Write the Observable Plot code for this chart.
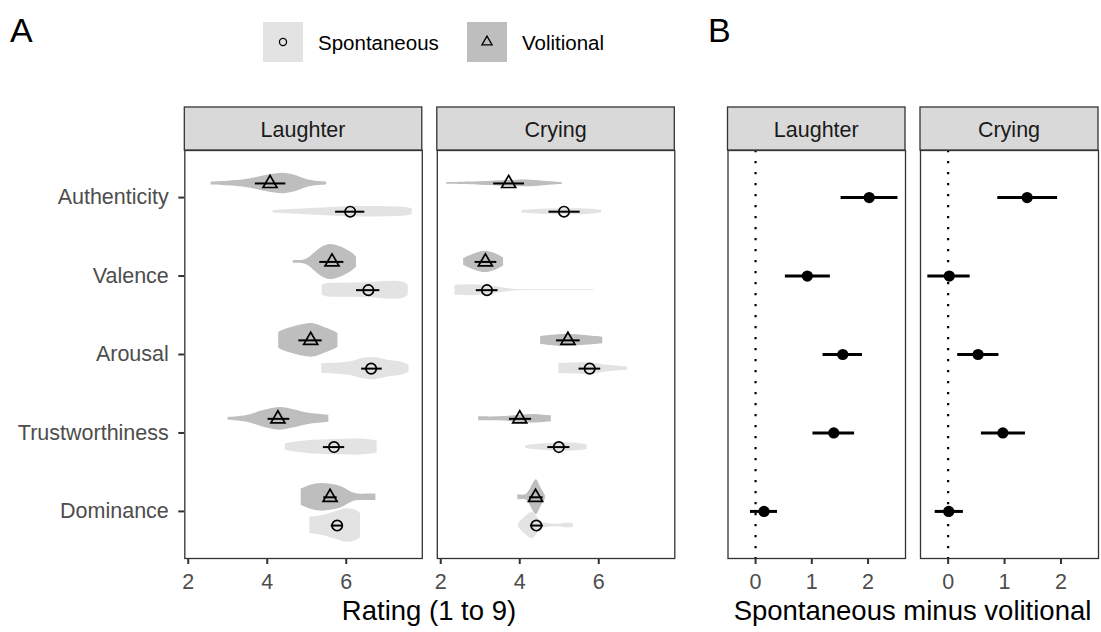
<!DOCTYPE html>
<html><head><meta charset="utf-8">
<script src="https://cdn.jsdelivr.net/npm/d3@7"></script>
<script src="https://cdn.jsdelivr.net/npm/@observablehq/plot@0.6"></script>
<style>
body{margin:0;background:#fff;}
#root{position:relative;width:1101px;height:632px;overflow:hidden;background:#fff;font-family:"Liberation Sans",Arial,sans-serif;}
#root svg{position:absolute;overflow:visible;}
</style></head>
<body><div id="root"></div>
<script>
// ---------------- data ----------------
const attributes = ["Authenticity","Valence","Arousal","Trustworthiness","Dominance"];
const conditions = ["Laughter","Crying"];
const expressionTypes = ["Spontaneous","Volitional"];
const ratingTicks = [2,4,6];
const diffTicks = [0,1,2];

// Panel A: mean rating and 95% CI per attribute
const laughterVolMean = [4.07, 5.64, 5.10, 4.27, 5.59];
const laughterVolLow  = [3.70, 5.33, 4.80, 4.02, 5.43];
const laughterVolHigh = [4.47, 5.94, 5.39, 4.57, 5.77];
const laughterSponMean = [6.10, 6.56, 6.63, 5.69, 5.77];
const laughterSponLow  = [5.73, 6.26, 6.39, 5.42, 5.62];
const laughterSponHigh = [6.47, 6.85, 6.91, 5.96, 5.92];
const cryingVolMean = [3.72, 3.13, 5.22, 4.00, 4.40];
const cryingVolLow  = [3.34, 2.87, 4.93, 3.74, 4.25];
const cryingVolHigh = [4.12, 3.42, 5.53, 4.30, 4.59];
const cryingSponMean = [5.12, 3.17, 5.77, 4.99, 4.42];
const cryingSponLow  = [4.74, 2.90, 5.50, 4.71, 4.27];
const cryingSponHigh = [5.53, 3.45, 6.05, 5.27, 4.60];

// Panel A: violin density profiles [rating, density] per attribute
const laughterVolViolins = [
  [[2.58,1.5],[3.0,2.3],[3.5,4.2],[4.0,8.3],[4.4,10.3],[4.7,8.3],[5.0,4],[5.3,2],[5.5,1.5]],
  [[4.66,1.5],[4.9,1.7],[5.05,4],[5.2,9],[5.4,15],[5.6,17.5],[5.8,16],[6.0,12.5],[6.15,9],[6.26,5]],
  [[4.29,8],[4.45,11],[4.7,14],[5.0,16.5],[5.2,16.5],[5.45,13],[5.65,10],[5.79,7]],
  [[3.01,1.3],[3.49,3.3],[3.91,8.3],[4.34,11.3],[4.67,9],[5.01,5.8],[5.3,4.5],[5.56,3.5]],
  [[4.86,8],[5.1,12],[5.35,13.8],[5.6,13],[5.86,10.8],[6.15,4.7],[6.3,3.3],[6.6,3.3],[6.75,3.3]]
];
const laughterSponViolins = [
  [[4.15,1.2],[4.5,2],[5.0,3],[5.5,4],[6.0,5],[6.5,5.3],[7.0,5],[7.5,4.3],[7.67,3]],
  [[5.39,5],[5.5,6.5],[6.0,7],[6.5,7.3],[6.9,8.5],[7.2,9],[7.45,8],[7.57,5]],
  [[5.38,5],[5.7,5.5],[6.1,7],[6.45,10.5],[6.75,11],[7.05,8.5],[7.35,7],[7.59,4]],
  [[4.46,3.3],[5.01,6.3],[5.69,7.5],[6.36,8],[6.65,7],[6.78,6]],
  [[5.08,8.3],[5.4,10],[5.75,14],[6.02,16.7],[6.25,15],[6.36,12]]
];
const cryingVolViolins = [
  [[2.15,0.8],[3.0,1.7],[3.85,3],[4.27,3.3],[4.7,2],[5.08,0.8]],
  [[2.58,3.3],[2.85,8],[3.13,10.7],[3.4,8],[3.59,4]],
  [[4.53,4],[5.12,6],[5.72,4.7],[6.10,3.3]],
  [[2.96,2],[3.5,2],[4.0,3.7],[4.44,4.2],[4.8,3]],
  [[3.95,2.5],[4.15,2.5],[4.25,7],[4.33,13],[4.42,17.5],[4.53,10],[4.65,1.7]]
];
const cryingSponViolins = [
  [[4.06,1.3],[4.53,2.5],[5.12,3],[5.72,2.7],[6.07,1.3]],
  [[2.36,5],[2.83,5.5],[3.25,4.2],[3.68,1.7],[3.95,0.7],[4.5,0.4],[5.88,0.4]],
  [[4.99,5],[5.76,5.8],[6.22,3.3],[6.73,1.7]],
  [[4.15,1.3],[4.53,3],[4.99,4.2],[5.46,3.7],[5.70,2.5]],
  [[3.97,2],[4.15,9],[4.32,13.3],[4.45,8],[4.57,3.3],[4.8,1.5],[5.05,1.5],[5.15,2.2],[5.36,2]]
];

// Panel B: spontaneous minus volitional (estimate and CI)
const laughterDiff     = [2.02, 0.92, 1.55, 1.39, 0.15];
const laughterDiffLow  = [1.52, 0.53, 1.20, 1.02, -0.09];
const laughterDiffHigh = [2.53, 1.33, 1.90, 1.76, 0.39];
const cryingDiff     = [1.40, 0.02, 0.53, 0.97, 0.01];
const cryingDiffLow  = [0.88, -0.36, 0.17, 0.59, -0.23];
const cryingDiffHigh = [1.94, 0.39, 0.90, 1.37, 0.27];

// ---------------- helpers ----------------
const FONT = "Liberation Sans, Arial, sans-serif";
const OFFSET = {Volitional: -0.18, Spontaneous: 0.18};
const DENS = 1 / 78.5;
const FILL = {Volitional: "#bebebe", Spontaneous: "#e3e3e3"};
const intFormat = d => String(d);
const root = document.getElementById("root");

function summaryRows(means, lows, highs, type) {
  return attributes.map((a, i) => ({i, attribute: a, type, mean: means[i], lo: lows[i], hi: highs[i]}));
}
function violinRows(profiles, type) {
  return profiles.flatMap((pts, i) => pts.map(([x, d]) => ({i, type, key: type + i, x, d})));
}
function place(svg, left, top) {
  svg.style.left = left + "px";
  svg.style.top = top + "px";
  root.appendChild(svg);
}

function ratingPanel(cond, vol, spon, volV, sponV, showY, left, width, mL, mR) {
  const marks = [];
  for (const [rows, type] of [[volV, "Volitional"], [sponV, "Spontaneous"]]) {
    marks.push(Plot.areaY(rows, {
      x: "x",
      y1: d => d.i + OFFSET[type] - d.d * DENS,
      y2: d => d.i + OFFSET[type] + d.d * DENS,
      z: "key", fill: FILL[type], curve: "catmull-rom"
    }));
  }
  for (const [rows, type, sym] of [[vol, "Volitional", "triangle"], [spon, "Spontaneous", "circle"]]) {
    marks.push(Plot.ruleY(rows, {y: d => d.i + OFFSET[type], x1: "lo", x2: "hi", stroke: "#000", strokeWidth: 2}));
    marks.push(Plot.dot(rows, {x: "mean", y: d => d.i + OFFSET[type], symbol: sym, r: 5.2, stroke: "#000", strokeWidth: 1.7, fill: "none"}));
  }
  marks.push(Plot.axisX({ticks: ratingTicks, tickFormat: intFormat, tickSize: 6, tickPadding: 9, label: null, fontSize: 21.5, fill: "#4d4d4d", stroke: "#333", strokeWidth: 2}));
  if (showY) marks.push(Plot.axisY({ticks: [0,1,2,3,4], tickFormat: i => attributes[i], tickSize: 6, tickPadding: 10, label: null, fontSize: 21.5, fill: "#4d4d4d", stroke: "#333", strokeWidth: 2}));
  marks.push(Plot.frame({stroke: "#333", strokeWidth: 1.3}));
  const svg = Plot.plot({
    width, height: 492, marginLeft: mL, marginRight: mR, marginTop: 10, marginBottom: 74,
    style: {fontFamily: FONT, fontSize: "21.5px", background: "transparent", overflow: "visible"},
    x: {domain: [1.913, 7.925]},
    y: showY ? {domain: [4.6, -0.6]} : {domain: [4.6, -0.6], axis: null},
    marks
  });
  place(svg, left, 140);
}

function diffPanel(means, lows, highs, left, width, mL, mR) {
  const rows = attributes.map((a, i) => ({i, attribute: a, mean: means[i], lo: lows[i], hi: highs[i]}));
  const svg = Plot.plot({
    width, height: 492, marginLeft: mL, marginRight: mR, marginTop: 10, marginBottom: 74,
    style: {fontFamily: FONT, fontSize: "21.5px", background: "transparent", overflow: "visible"},
    x: {domain: [-0.49, 2.665]},
    y: {domain: [4.6, -0.6], axis: null},
    marks: [
      Plot.ruleX([0], {stroke: "#000", strokeWidth: 2.2, strokeDasharray: "2.2,8.8"}),
      Plot.ruleY(rows, {y: "i", x1: "lo", x2: "hi", stroke: "#000", strokeWidth: 3}),
      Plot.dot(rows, {x: "mean", y: "i", r: 5.6, fill: "#000", stroke: "none"}),
      Plot.axisX({ticks: diffTicks, tickFormat: intFormat, tickSize: 6, tickPadding: 9, label: null, fontSize: 21.5, fill: "#4d4d4d", stroke: "#333", strokeWidth: 2}),
      Plot.frame({stroke: "#333", strokeWidth: 1.3})
    ]
  });
  place(svg, left, 140);
}

// ---------------- panels ----------------
ratingPanel("Laughter",
  summaryRows(laughterVolMean, laughterVolLow, laughterVolHigh, "Volitional"),
  summaryRows(laughterSponMean, laughterSponLow, laughterSponHigh, "Spontaneous"),
  violinRows(laughterVolViolins, "Volitional"), violinRows(laughterSponViolins, "Spontaneous"),
  true, 0, 424, 184.3, 2.2);
ratingPanel("Crying",
  summaryRows(cryingVolMean, cryingVolLow, cryingVolHigh, "Volitional"),
  summaryRows(cryingSponMean, cryingSponLow, cryingSponHigh, "Spontaneous"),
  violinRows(cryingVolViolins, "Volitional"), violinRows(cryingSponViolins, "Spontaneous"),
  false, 430, 246, 6.8, 1.7);
diffPanel(laughterDiff, laughterDiffLow, laughterDiffHigh, 720, 187, 7.5, 2);
diffPanel(cryingDiff, cryingDiffLow, cryingDiffHigh, 912, 189, 8, 3);

// ---------------- overlay: strips, titles, legend ----------------
const ov = d3.create("svg").attr("width", 1101).attr("height", 632)
  .style("left", "0px").style("top", "0px").style("font-family", FONT);
const strips = [
  [184.3, 421.8, conditions[0]], [436.8, 674.3, conditions[1]],
  [727.5, 905, conditions[0]], [920, 1098, conditions[1]]
];
for (const [x0, x1, label] of strips) {
  ov.append("rect").attr("x", x0).attr("y", 107).attr("width", x1 - x0).attr("height", 43)
    .attr("fill", "#d9d9d9").attr("stroke", "#333").attr("stroke-width", 1.3);
  ov.append("text").attr("x", (x0 + x1) / 2).attr("y", 136.5).attr("text-anchor", "middle")
    .attr("font-size", 21.5).attr("fill", "#1a1a1a").text(label);
}
ov.append("text").attr("x", 429).attr("y", 620).attr("text-anchor", "middle").attr("font-size", 27.5).attr("fill", "#000").text("Rating (1 to 9)");
ov.append("text").attr("x", 912.5).attr("y", 620).attr("text-anchor", "middle").attr("font-size", 27.5).attr("fill", "#000").text("Spontaneous minus volitional");
ov.append("text").attr("x", 10).attr("y", 42).attr("font-size", 34).attr("fill", "#000").text("A");
ov.append("text").attr("x", 708).attr("y", 42).attr("font-size", 34).attr("fill", "#000").text("B");

const legendItems = [[263, expressionTypes[0], "circle"], [467, expressionTypes[1], "triangle"]];
for (const [x, label, sym] of legendItems) {
  const type = label;
  ov.append("rect").attr("x", x).attr("y", 22).attr("width", 40).attr("height", 40).attr("fill", FILL[type]);
  const symType = sym === "circle" ? d3.symbolCircle : d3.symbolTriangle;
  ov.append("path").attr("d", d3.symbol(symType, sym === "circle" ? 40 : 45)())
    .attr("transform", `translate(${x + 20},42)`).attr("fill", "none").attr("stroke", "#000").attr("stroke-width", 1.3);
  ov.append("text").attr("x", x + 55).attr("y", 49.5).attr("font-size", 20.5).attr("fill", "#000").text(label);
}
root.appendChild(ov.node());
</script>
</body></html>
